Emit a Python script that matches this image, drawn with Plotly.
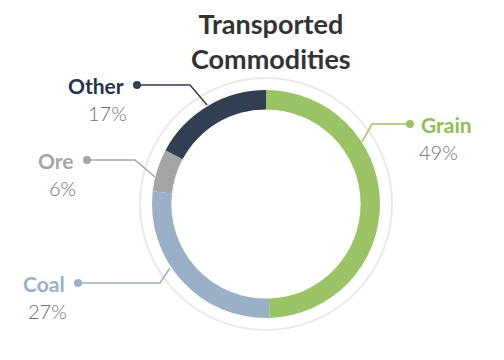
import plotly.graph_objects as go

categories = ["Grain", "Coal", "Ore", "Other"]
values = [49, 27, 6, 17]
colors = ["#9bc264", "#9bb0c7", "#a5a5a5", "#323e52"]
label_colors = ["#8fbf55", "#9bb0c7", "#a5a5a5", "#26334a"]

# page body has an 8px margin: work in figure coords = page coords - 8
OFF = 8
W, H = 504 - OFF, 360 - OFF
CX, CY, R = 266 - OFF, 204 - OFF, 114

fig = go.Figure()
fig.add_trace(go.Pie(
    labels=categories, values=values, sort=False, direction="clockwise", rotation=0,
    hole=0.83, textinfo="none", hoverinfo="skip",
    marker=dict(colors=colors, line=dict(width=0)),
    domain=dict(x=[(CX - R) / W, (CX + R) / W], y=[(H - CY - R) / H, (H - CY + R) / H]),
    showlegend=False,
))

# page-pixel positions: dot, elbow x, arc attach point, label side, percentage center x
label_pos = {
    "Grain": dict(dot=(410, 124), elbow=372, arc=(362, 142), side="right", pct=438),
    "Coal": dict(dot=(78, 283), elbow=160, arc=(170, 268), side="left", pct=47),
    "Ore": dict(dot=(87, 160), elbow=135, arc=(155, 177), side="left", pct=62),
    "Other": dict(dot=(137, 85), elbow=190, arc=(207, 105), side="left", pct=107),
}

shapes = [dict(type="circle", xref="x", yref="y", x0=CX - 126, x1=CX + 126,
               y0=CY - 126, y1=CY + 126, line=dict(color="#e9e9e9", width=2),
               layer="below")]
annotations = [dict(text="<b>Transported<br>Commodities</b>", x=271 - OFF, y=41 - OFF,
                    xref="x", yref="y", showarrow=False,
                    font=dict(family="Lato", size=27, color="#333333"),
                    align="center", yanchor="middle")]

for cat, val, col, lcol in zip(categories, values, colors, label_colors):
    p = label_pos[cat]
    dx, dy = p["dot"][0] - OFF, p["dot"][1] - OFF
    ax, ay = p["arc"][0] - OFF, p["arc"][1] - OFF
    ex = p["elbow"] - OFF
    shapes.append(dict(type="path", xref="x", yref="y",
                       path=f"M {dx},{dy} L {ex},{dy} L {ax},{ay}",
                       line=dict(color=col, width=1.5)))
    shapes.append(dict(type="circle", xref="x", yref="y", x0=dx - 4, x1=dx + 4,
                       y0=dy - 4, y1=dy + 4, fillcolor=col, line=dict(width=0)))
    if p["side"] == "right":
        tx, xa = dx + 9, "left"
    else:
        tx, xa = dx - 11, "right"
    annotations.append(dict(text=f"<b>{cat}</b>", x=tx, y=dy, xref="x", yref="y",
                            xanchor=xa, yanchor="middle", showarrow=False,
                            font=dict(family="Lato", size=21, color=lcol)))
    annotations.append(dict(text=f"{val}%", x=p["pct"] - OFF, y=dy + 28, xref="x", yref="y",
                            xanchor="center", yanchor="middle", showarrow=False,
                            font=dict(family="Lato", size=20, color="#707070", weight=300)))

fig.update_layout(
    width=W, height=H, margin=dict(l=0, r=0, t=0, b=0),
    paper_bgcolor="white", plot_bgcolor="rgba(0,0,0,0)",
    xaxis=dict(range=[0, W], visible=False, fixedrange=True),
    yaxis=dict(range=[H, 0], visible=False, fixedrange=True),
    shapes=shapes, annotations=annotations,
)
fig.write_html("out.html")
